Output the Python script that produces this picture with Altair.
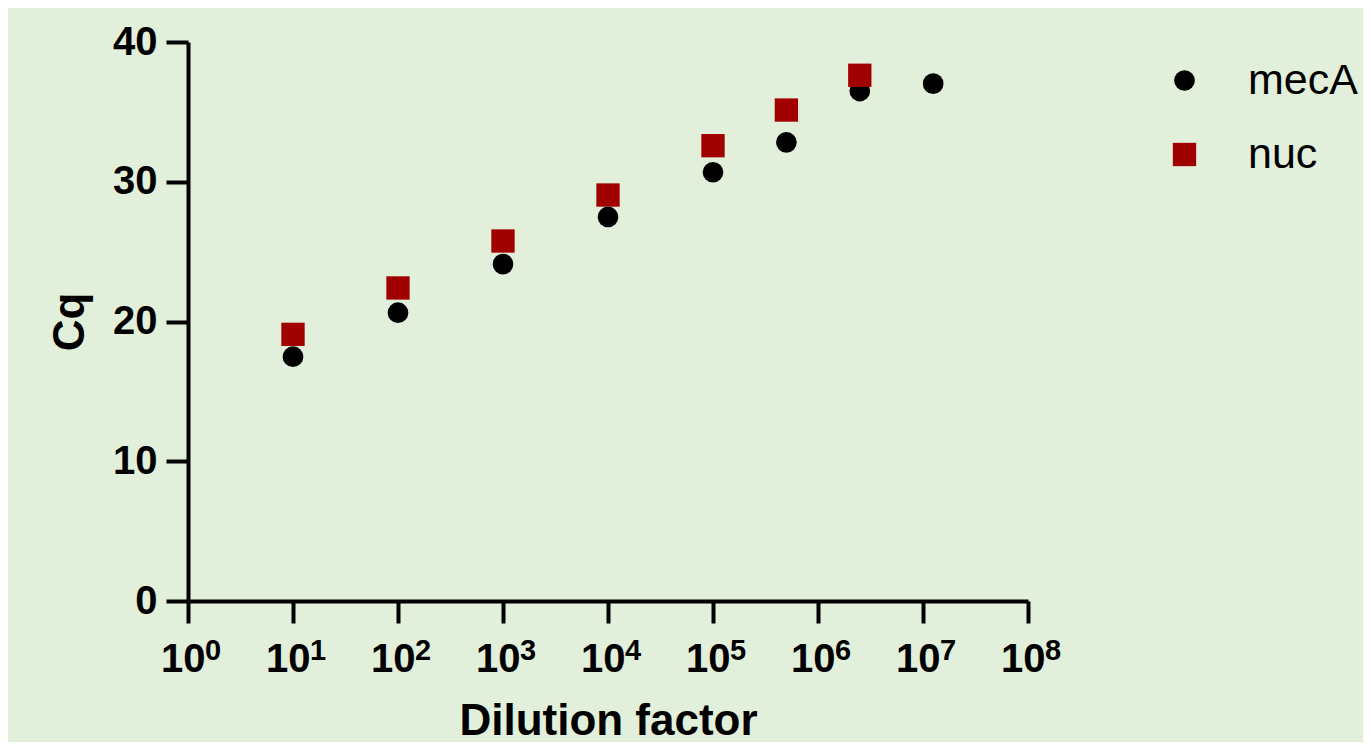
import altair as alt
import pandas as pd

# Data
mecA_dilution = [10, 100, 1000, 1e4, 1e5, 5e5, 2.5e6, 1.25e7]
mecA_cq = [17.48, 20.63, 24.11, 27.48, 30.68, 32.82, 36.49, 37.02]
nuc_dilution = [10, 100, 1000, 1e4, 1e5, 5e5, 2.5e6]
nuc_cq = [19.08, 22.40, 25.76, 29.05, 32.58, 35.13, 37.62]

x_tick_values = [1, 10, 100, 1000, 1e4, 1e5, 1e6, 1e7, 1e8]
x_tick_exponents = ["0", "1", "2", "3", "4", "5", "6", "7", "8"]
y_tick_values = [0, 10, 20, 30, 40]

series_names = ["mecA", "nuc"]
series_colors = ["#000000", "#a00000"]
series_shapes = ["circle", "square"]
series_sizes = [428, 544]

df = pd.concat([
    pd.DataFrame({"dilution": mecA_dilution, "cq": mecA_cq, "series": "mecA"}),
    pd.DataFrame({"dilution": nuc_dilution, "cq": nuc_cq, "series": "nuc"}),
], ignore_index=True)

ticks_df = pd.DataFrame({"dilution": x_tick_values, "exp": x_tick_exponents})

FONT = "Liberation Sans"
PLOT_W, PLOT_H = 840, 559

legend = alt.Legend(
    title=None, orient="none", legendX=975, legendY=17,
    labelFont=FONT, labelFontSize=43, labelColor="black",
    labelOffset=42, rowPadding=30, padding=0, labelLimit=300,
    symbolStrokeWidth=0, symbolOpacity=1,
)

x_scale = alt.Scale(type="log", domain=[1, 1e8], nice=False)

points = alt.Chart(df).mark_point(filled=True, opacity=1, strokeWidth=0).encode(
    x=alt.X("dilution:Q", scale=x_scale,
            axis=alt.Axis(title="Dilution factor", values=x_tick_values,
                          labelExpr="'10'", labelAlign="right", labelOffset=17,
                          labelPadding=16, titlePadding=20,
                          labelFlush=False, labelOverlap=False)),
    y=alt.Y("cq:Q",
            scale=alt.Scale(domain=[0, 40], nice=False, zero=True),
            axis=alt.Axis(title="Cq", values=y_tick_values, labelPadding=9,
                          titlePadding=20)),
    color=alt.Color("series:N", scale=alt.Scale(domain=series_names, range=series_colors), legend=legend),
    shape=alt.Shape("series:N", scale=alt.Scale(domain=series_names, range=series_shapes), legend=legend),
    size=alt.Size("series:N", scale=alt.Scale(domain=series_names, range=series_sizes), legend=legend),
)

exponents = alt.Chart(ticks_df).mark_text(
    font=FONT, fontSize=29, fontWeight="bold", color="black",
    align="left", baseline="alphabetic", dx=17,
).encode(
    x=alt.X("dilution:Q", scale=x_scale),
    y=alt.value(PLOT_H + 59),
    text="exp:N",
)

chart = alt.layer(points, exponents).properties(
    width=PLOT_W, height=PLOT_H,
    autosize=alt.AutoSizeParams(type="none"),
    padding={"left": 180, "top": 34, "right": 335, "bottom": 141},
    background="#e2efda",
).configure_view(stroke=None).configure_axis(
    domainColor="black", domainWidth=4, tickColor="black", tickWidth=4, tickSize=22,
    labelFont=FONT, labelFontSize=40, labelFontWeight="bold", labelColor="black",
    titleFont=FONT, titleFontSize=44, titleFontWeight="bold", titleColor="black",
    grid=False,
)

chart.save("out.html", embed_options={"renderer": "svg", "actions": False})
